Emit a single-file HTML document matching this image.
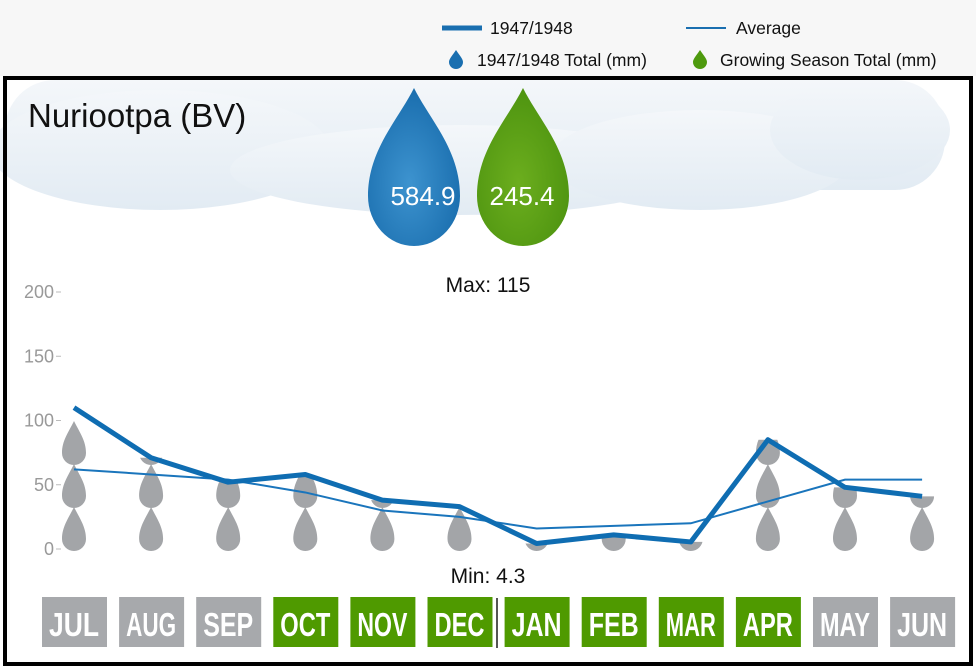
<!DOCTYPE html>
<html><head><meta charset="utf-8"><style>
body{margin:0;background:#fff;width:976px;height:672px;overflow:hidden;font-family:"Liberation Sans",sans-serif}
svg{display:block}
</style></head><body>
<svg id="chart" width="976" height="672" viewBox="0 0 976 672">
<defs>
<linearGradient id="cloudg" x1="0" y1="0" x2="0" y2="1"><stop offset="0" stop-color="#f4f7fa"/><stop offset="1" stop-color="#e2ebf3"/></linearGradient>
<radialGradient id="blueg" cx="0.45" cy="0.6" r="0.6"><stop offset="0" stop-color="#3d93cf"/><stop offset="1" stop-color="#1a6eae"/></radialGradient>
<radialGradient id="greeng" cx="0.45" cy="0.6" r="0.6"><stop offset="0" stop-color="#6cae1e"/><stop offset="1" stop-color="#4e9410"/></radialGradient>
</defs>
<rect x="0" y="0" width="976" height="76" fill="#f7f7f7"/>
<g>
<line x1="442" y1="28" x2="482" y2="28" stroke="#1a6fb0" stroke-width="5"/>
<text x="490" y="34" font-size="17.5" fill="#111">1947/1948</text>
<line x1="686" y1="28" x2="726" y2="28" stroke="#1a6fb0" stroke-width="2"/>
<text x="736" y="34" font-size="17.5" fill="#111">Average</text>
<path d="M456,50 C452,56 449,59 449,62 a7,7 0 0 0 14,0 C463,59 460,56 456,50Z" fill="#1a6fb0"/>
<text x="477" y="66" font-size="17.5" fill="#111">1947/1948 Total (mm)</text>
<path d="M700,50 C696,56 693,59 693,62 a7,7 0 0 0 14,0 C707,59 704,56 700,50Z" fill="#4e9a0e"/>
<text x="720" y="66" font-size="17.5" fill="#111">Growing Season Total (mm)</text>
</g>
<g fill="url(#cloudg)">
<rect x="5" y="80" width="940" height="110" rx="50"/>
<ellipse cx="160" cy="150" rx="170" ry="60"/>
<ellipse cx="460" cy="170" rx="230" ry="45"/>
<ellipse cx="700" cy="160" rx="150" ry="50"/>
<ellipse cx="860" cy="130" rx="90" ry="50"/>
</g>
<text x="28" y="127" font-size="33" fill="#111">Nuriootpa (BV)</text>
<g>
<path d="M414,88 C398,120 368,150 368,196 a46,50 0 0 0 92,0 C460,150 430,120 414,88Z" fill="url(#blueg)"/>
<text x="423" y="205" font-size="26" fill="#fff" text-anchor="middle">584.9</text>
</g>
<g>
<path d="M523,88 C507,120 477,150 477,196 a46,50 0 0 0 92,0 C569,150 539,120 523,88Z" fill="url(#greeng)"/>
<text x="522" y="205" font-size="26" fill="#fff" text-anchor="middle">245.4</text>
</g>
<g id="plot"></g>
<rect x="5" y="78" width="966" height="586" fill="none" stroke="#000" stroke-width="4"/>
</svg>
<script>
const months=["JUL","AUG","SEP","OCT","NOV","DEC","JAN","FEB","MAR","APR","MAY","JUN"];
const season=[false,false,false,true,true,true,true,true,true,true,false,false];
const rain=[110,71,52,58,38,33,4.3,11,5.5,85,48,41];
const avg=[62,58,54,44,30,25,16,18,20,37,54,54];
const yTicks=[0,50,100,150,200];
const maxLabel="Max: 115", minLabel="Min: 4.3";
const NS="http://www.w3.org/2000/svg";
const plot=document.getElementById('plot');
const x=i=>74+i*77.1;
const y=v=>549-v*1.285;
function mk(t,a,p){const e=document.createElementNS(NS,t);for(const k in a)e.setAttribute(k,a[k]);(p||plot).appendChild(e);return e;}
yTicks.forEach(v=>{
 const t=mk('text',{x:54,y:y(v)+6,'font-size':18,fill:'#999','text-anchor':'end'});
 t.textContent=v;
 
 
 const l=mk('line',{x1:56,x2:61,y1:y(v),y2:y(v),stroke:'#bbb'});
 
 
});
const defs=document.querySelector('defs');
months.forEach((m,i)=>{
 const cp=mk('clipPath',{id:'cp'+i},defs);
 mk('rect',{x:x(i)-20,y:y(rain[i]),width:40,height:549-y(rain[i])+2},cp);
 const g=mk('g',{'clip-path':'url(#cp'+i+')',fill:'#a3a5a8'});
 
 
 [0,1,2].forEach(k=>{
  const b=551-k*43, cx=x(i);
  mk('path',{d:`M${cx},${b-44} C${cx-6},${b-32} ${cx-12},${b-24} ${cx-12},${b-12} a12,12 0 0 0 24,0 C${cx+12},${b-24} ${cx+6},${b-32} ${cx},${b-44}Z`},g);
 });
});
const ap=mk('polyline',{points:avg.map((v,i)=>x(i)+','+y(v)).join(' '),fill:'none',stroke:'#1a75bc','stroke-width':2});


const rp=mk('polyline',{points:rain.map((v,i)=>x(i)+','+y(v)).join(' '),fill:'none',stroke:'#0f6db2','stroke-width':5,'stroke-linejoin':'round'});


const mx=mk('text',{x:488,y:292,'font-size':21,fill:'#111','text-anchor':'middle'});mx.textContent=maxLabel;


const mn=mk('text',{x:488,y:583,'font-size':21,fill:'#111','text-anchor':'middle'});mn.textContent=minLabel;


months.forEach((m,i)=>{
 const r=mk('rect',{x:x(i)-32,y:597,width:65,height:50,fill:season[i]?'#4f9a00':'#a7a9ac'});
 
 
 const t=mk('text',{x:x(i),y:636,'font-size':33,'font-weight':'bold',fill:'#fff','text-anchor':'middle','font-family':'"Liberation Sans Narrow","Liberation Sans",sans-serif',textLength:50,lengthAdjust:'spacingAndGlyphs'});
 t.textContent=m;
 
 
});
const sep=mk('line',{x1:497,x2:497,y1:598,y2:648,stroke:'#555','stroke-width':2});


</script>
</body></html>
